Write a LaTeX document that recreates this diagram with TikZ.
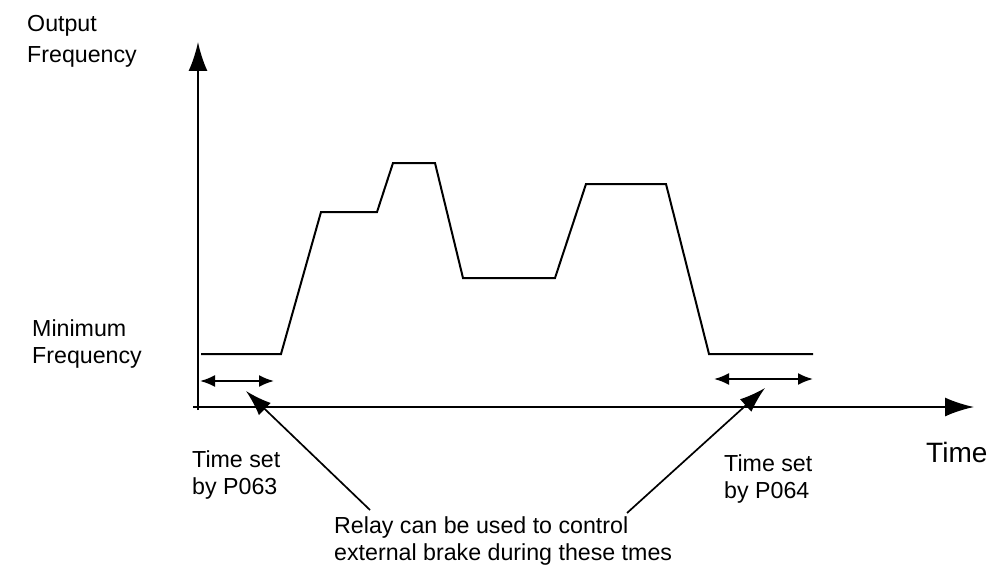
\documentclass[tikz,border=0pt]{standalone}
\usepackage{fontspec}
\setmainfont{Liberation Sans}
\usetikzlibrary{positioning,arrows.meta}
\tikzset{axis/.style={line width=2pt, -{Latex[length=29pt,width=19pt]}},
% the curve of the output frequency
curve/.style={line width=2pt, line join=miter},
span/.style={line width=2pt, {Latex[length=15pt,width=12pt]}-{Latex[length=15pt,width=12pt]}},
pointer/.style={line width=1.7pt, -{Latex[length=26pt,width=17pt]}},
txt/.style={inner sep=0pt, anchor=base west, align=left, font=\fontsize{23.2}{27}\selectfont}
}
\begin{document}
\begin{tikzpicture}[x=1pt,y=-1pt]
    \useasboundingbox (0,0) rectangle (992,567);
    % axes
    \coordinate (yb) at (198,410);
    \coordinate (yt) at (198,42);
    \coordinate (xl) at (193,407);
    \coordinate (xr) at (974,407);
    \draw[axis] (yb) -- (yt);
    \draw[axis] (xl) -- (xr);
    % frequency profile
    \draw[curve] (201,354) -- (281,354) -- (321,212) -- (377,212) -- (393,163) -- (435,163)
        -- (463,278) -- (555,278) -- (586,184) -- (666,184) -- (709,354) -- (813,354);
    % labels (base is the last line)
    \node[txt] (out) at (27,63) {Output\\[4.5pt]Frequency};
    \node[txt] (minf) at (32,363) {Minimum\\Frequency};
    \node[txt, font=\fontsize{28}{32}\selectfont] (time) at (926,462) {Time};
    \node[txt] (p063) at (192,494) {Time set\\by P063};
    \node[txt] (p064) at (724,498) {Time set\\by P064};
    \node[txt] (relay) at (334,560) {Relay can be used to control\\external brake during these tmes};
    % times of the relay
    \coordinate (sa) at (200,381);
    \coordinate (sb) at (274,381);
    \coordinate (sc) at (714,379);
    \coordinate (sd) at (813,379);
    \draw[span] (sa) -- (sb);
    \draw[span] (sc) -- (sd);
    \coordinate (ra) at (370,510);
    \coordinate (rb) at (627,513);
    \coordinate (ta) at (246,391);
    \coordinate (tb) at (765,388);
    \draw[pointer] (ra) -- (ta);
    \draw[pointer] (rb) -- (tb);
\end{tikzpicture}
\end{document}
